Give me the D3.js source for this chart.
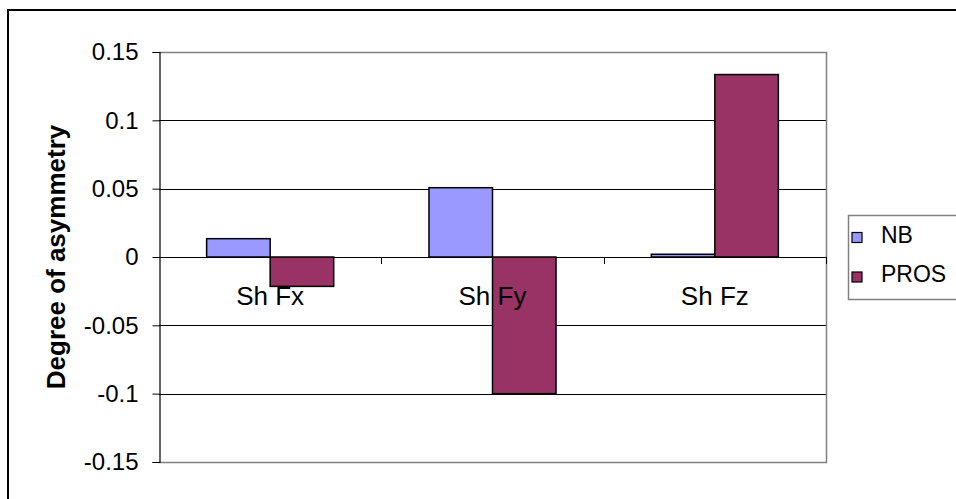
<!DOCTYPE html>
<html>
<head>
<meta charset="utf-8">
<script src="https://cdn.jsdelivr.net/npm/d3@7"></script>
<style>
  html, body { margin: 0; padding: 0; background: #fff; }
  svg { display: block; font-family: "Liberation Sans", Arial, sans-serif; }
</style>
</head>
<body>
<svg id="chart" width="956" height="499"></svg>
<script>
// Degree of asymmetry per shoulder force component
const categories = ["Sh Fx", "Sh Fy", "Sh Fz"];
const seriesNames = ["NB", "PROS"];
const nbValues = [0.0134, 0.0507, 0.002];
const prosValues = [-0.0215, -0.1, 0.1335];
const yTicks = [0.15, 0.1, 0.05, 0, -0.05, -0.1, -0.15];
const yTickLabels = ["0.15", "0.1", "0.05", "0", "-0.05", "-0.1", "-0.15"];
const colors = { NB: "#9999FF", PROS: "#993366" };

const rows = categories.map((c, i) => ({ category: c, NB: nbValues[i], PROS: prosValues[i] }));

const svg = d3.select("#chart");
const plot = { left: 159, right: 826, top: 52, bottom: 462 };

// outer chart frame
svg.append("rect")
  .attr("x", 8).attr("y", 10)
  .attr("width", 1000).attr("height", 600)
  .attr("fill", "#fff").attr("stroke", "#000").attr("stroke-width", 2);

const y = d3.scaleLinear().domain([-0.15, 0.15]).range([plot.bottom, plot.top]);
const x0 = d3.scaleBand().domain(categories).range([plot.left, plot.right]).paddingInner(0).paddingOuter(0);
const x1 = d3.scaleBand().domain(seriesNames).range([0, x0.bandwidth()]).paddingInner(0).paddingOuter(0.75);

// horizontal gridlines
svg.append("g").selectAll("line")
  .data(yTicks.filter(t => t !== 0.15 && t !== -0.15))
  .join("line")
  .attr("x1", plot.left).attr("x2", plot.right)
  .attr("y1", d => Math.round(y(d)) + 0.5).attr("y2", d => Math.round(y(d)) + 0.5)
  .attr("stroke", "#000").attr("stroke-width", 1);

// plot area border (top, right, bottom)
svg.append("path")
  .attr("d", `M${plot.left},${Math.round(y(0.15)) + 0.5}H${plot.right + 0.5}V${Math.round(y(-0.15)) + 0.5}H${plot.left}`)
  .attr("fill", "none").attr("stroke", "#808080").attr("stroke-width", 1.5);

// bars
const groups = svg.append("g").selectAll("g")
  .data(rows)
  .join("g")
  .attr("transform", d => `translate(${x0(d.category)},0)`);

groups.selectAll("rect")
  .data(d => seriesNames.map(s => ({ series: s, value: d[s] })))
  .join("rect")
  .attr("x", d => x1(d.series))
  .attr("width", x1.bandwidth())
  .attr("y", d => y(Math.max(0, d.value)))
  .attr("height", d => Math.abs(y(d.value) - y(0)))
  .attr("fill", d => colors[d.series])
  .attr("stroke", "#000").attr("stroke-width", 1.5);

// y axis
const yAxis = d3.axisLeft(y)
  .tickValues(yTicks)
  .tickFormat((d, i) => yTickLabels[i])
  .tickSize(7)
  .tickPadding(14);
const yAxisG = svg.append("g")
  .attr("transform", `translate(${plot.left + 0.5},0)`)
  .call(yAxis);
yAxisG.select(".domain").attr("stroke", "#000").attr("stroke-width", 1.2);
yAxisG.selectAll(".tick line").attr("stroke", "#000");
yAxisG.selectAll(".tick text")
  .attr("font-size", 24).attr("fill", "#000")
  .attr("font-family", "Liberation Sans, Arial, sans-serif");

// category tick marks on the zero line
svg.append("g").selectAll("line")
  .data(categories.map(c => x0(c) + x0.bandwidth()))
  .join("line")
  .attr("x1", d => Math.round(d) + 0.5).attr("x2", d => Math.round(d) + 0.5)
  .attr("y1", y(0)).attr("y2", y(0) + 7)
  .attr("stroke", "#000");

// category labels
svg.append("g").selectAll("text")
  .data(categories)
  .join("text")
  .attr("x", d => x0(d) + x0.bandwidth() / 2)
  .attr("y", 305)
  .attr("text-anchor", "middle")
  .attr("font-size", 26)
  .text(d => d);

// y axis title
svg.append("text")
  .attr("transform", `translate(65,${(plot.top + plot.bottom) / 2}) rotate(-90)`)
  .attr("text-anchor", "middle")
  .attr("font-size", 26)
  .attr("font-weight", "bold")
  .text("Degree of asymmetry");

// legend
const legend = svg.append("g");
legend.append("rect")
  .attr("x", 848.5).attr("y", 215.5)
  .attr("width", 200).attr("height", 84)
  .attr("fill", "#fff").attr("stroke", "#808080").attr("stroke-width", 1.5);
const legendItems = legend.selectAll("g.item")
  .data(seriesNames)
  .join("g")
  .attr("class", "item")
  .attr("transform", (d, i) => `translate(0,${237.5 + i * 39.5})`);
legendItems.append("rect")
  .attr("x", 852).attr("y", -5)
  .attr("width", 10).attr("height", 10)
  .attr("fill", d => colors[d])
  .attr("stroke", "#000").attr("stroke-width", 1.2);
legendItems.append("text")
  .attr("x", 881).attr("y", 5)
  .attr("font-size", 23)
  .text(d => d);
</script>
</body>
</html>
